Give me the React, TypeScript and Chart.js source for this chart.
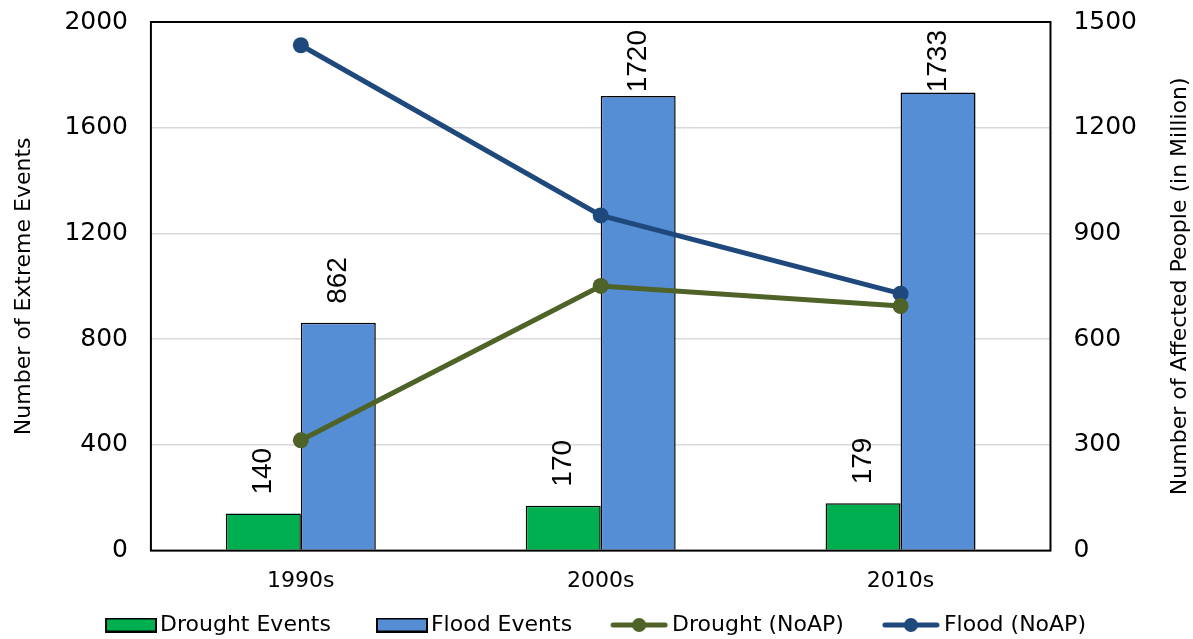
import React, { useEffect, useRef } from "react";
import { Chart, registerables } from "chart.js";

Chart.register(...registerables);

const categories = ["1990s", "2000s", "2010s"];
const droughtEvents = [140, 170, 179];
const floodEvents = [862, 1720, 1733];
const droughtNoAP = [313, 751, 694];
const floodNoAP = [1434, 951, 729];
const leftTicks = { min: 0, max: 2000, step: 400 };
const rightTicks = { min: 0, max: 1500, step: 300 };
const leftTitle = "Number of Extreme Events";
const rightTitle = "Number of Affected People (in Million)";

const FONT = "'DejaVu Sans', sans-serif";
const GREEN = "#00b050";
const BLUE = "#558ed5";
const OLIVE = "#4f6228";
const NAVY = "#1f497d";
const ICON_W = 86;
const OVER = 8;

function makeBox(fill: string) {
  const W = ICON_W + 2 * OVER;
  const c = document.createElement("canvas");
  c.width = W;
  c.height = 15;
  const g = c.getContext("2d")!;
  const x0 = W - 52;
  g.fillStyle = fill;
  g.fillRect(x0, 0, 52, 15);
  g.strokeStyle = "#000";
  g.lineWidth = 2;
  g.strokeRect(x0 + 1, 1, 50, 13);
  return c;
}
function makeLine(color: string) {
  const W = ICON_W + 2 * OVER;
  const c = document.createElement("canvas");
  c.width = W;
  c.height = 16;
  const g = c.getContext("2d")!;
  g.strokeStyle = color;
  g.lineWidth = 5;
  g.lineCap = "round";
  g.beginPath();
  g.moveTo(W - 56, 8);
  g.lineTo(W - 4, 8);
  g.stroke();
  g.fillStyle = color;
  g.beginPath();
  g.arc(W - 30, 8, 7, 0, Math.PI * 2);
  g.fill();
  return c;
}

const borderPlugin = {
  id: "plotBorder",
  afterDatasetsDraw(chart: any) {
    const { ctx, chartArea: a } = chart;
    ctx.save();
    ctx.font = "28px 'Liberation Sans', Arial, sans-serif";
    ctx.fillStyle = "#000";
    ctx.textAlign = "left";
    ctx.textBaseline = "middle";
    [0, 1].forEach((di) => {
      const meta = chart.getDatasetMeta(di);
      meta.data.forEach((el: any, i: number) => {
        const v = String(chart.data.datasets[di].data[i]);
        const w = ctx.measureText(v).width;
        let start = el.y - 19;
        if (start - w < a.top + 8) start = a.top + 8 + w;
        ctx.save();
        ctx.translate(el.x, start);
        ctx.rotate(-Math.PI / 2);
        ctx.fillText(v, 0, 0);
        ctx.restore();
      });
    });
    ctx.restore();
  },
  afterDraw(chart: any) {
    const { ctx, chartArea: a } = chart;
    ctx.save();
    ctx.strokeStyle = "#000";
    ctx.lineWidth = 2;
    ctx.strokeRect(a.left, a.top, a.right - a.left, a.bottom - a.top);
    // right axis title, reading bottom-to-top
    ctx.font = "22px " + FONT;
    ctx.fillStyle = "#000";
    ctx.textAlign = "center";
    ctx.textBaseline = "middle";
    ctx.translate(1180, (a.top + a.bottom) / 2);
    ctx.rotate(-Math.PI / 2);
    ctx.fillText(rightTitle, 0, 0);
    ctx.restore();
  },
};

export default function App() {
  const ref = useRef<HTMLCanvasElement>(null);
  useEffect(() => {
    document.body.style.margin = "0";
    const imgs = [makeBox(GREEN), makeBox(BLUE), makeLine(OLIVE), makeLine(NAVY)];
    const chart = new Chart(ref.current!, {
      type: "bar",
      data: {
        labels: categories,
        datasets: [
          {
            type: "bar",
            label: "Drought Events",
            data: droughtEvents,
            backgroundColor: GREEN,
            borderColor: "#000",
            borderWidth: 1.5,
            yAxisID: "y",
            order: 2,
            categoryPercentage: 0.5,
            barPercentage: 1.0,
          },
          {
            type: "bar",
            label: "Flood Events",
            data: floodEvents,
            backgroundColor: BLUE,
            borderColor: "#000",
            borderWidth: 1.5,
            yAxisID: "y",
            order: 2,
            categoryPercentage: 0.5,
            barPercentage: 1.0,
          },
          {
            type: "line",
            label: "Drought (NoAP)",
            data: droughtNoAP,
            borderColor: OLIVE,
            backgroundColor: OLIVE,
            borderWidth: 5,
            pointRadius: 8,
            pointBorderWidth: 0,
            yAxisID: "y1",
            order: 1,
          },
          {
            type: "line",
            label: "Flood (NoAP)",
            data: floodNoAP,
            borderColor: NAVY,
            backgroundColor: NAVY,
            borderWidth: 5,
            pointRadius: 8,
            pointBorderWidth: 0,
            yAxisID: "y1",
            order: 1,
          },
        ] as any,
      },
      options: {
        animation: false,
        responsive: true,
        maintainAspectRatio: false,
        layout: { padding: { top: 0, left: 5, right: 49, bottom: -7 } },
        plugins: {
          tooltip: { enabled: false },
          legend: {
            position: "bottom",
            labels: {
              usePointStyle: true,
              pointStyleWidth: ICON_W,
              boxHeight: 15,
              padding: 3,
              color: "#000",
              font: { family: FONT, size: 22 },
              generateLabels: (ch: any) =>
                ch.data.datasets.map((d: any, i: number) => ({
                  text: d.label,
                  pointStyle: imgs[i],
                  datasetIndex: i,
                  hidden: false,
                  fillStyle: "transparent",
                  strokeStyle: "transparent",
                  lineWidth: 0,
                  fontColor: "#000",
                })),
            },
          },
        },
        scales: {
          x: {
            grid: { display: false, drawTicks: false },
            border: { display: false },
            ticks: { color: "#000", font: { family: FONT, size: 22 }, padding: 17 },
          },
          y: {
            position: "left",
            min: leftTicks.min,
            max: leftTicks.max,
            ticks: {
              stepSize: leftTicks.step,
              color: "#000",
              font: { family: FONT, size: 25 },
              padding: 7,
              callback: (v: any) => String(v) + "  ",
            },
            grid: { color: "#d9d9d9", lineWidth: 1.5, drawTicks: false },
            border: { display: false },
            title: {
              display: true,
              text: leftTitle,
              color: "#000",
              font: { family: FONT, size: 22 },
              padding: { top: 6, bottom: 20 },
            },
          },
          y1: {
            position: "right",
            min: rightTicks.min,
            max: rightTicks.max,
            ticks: {
              stepSize: rightTicks.step,
              color: "#000",
              font: { family: FONT, size: 25 },
              padding: 7,
              callback: (v: any) => "  " + String(v),
            },
            grid: { display: false, drawTicks: false },
            border: { display: false },
          },
        },
      } as any,
      plugins: [borderPlugin],
    });
    return () => chart.destroy();
  }, []);
  return (
    <div style={{ width: 1193, height: 639, position: "relative" }}>
      <canvas ref={ref} />
    </div>
  );
}
